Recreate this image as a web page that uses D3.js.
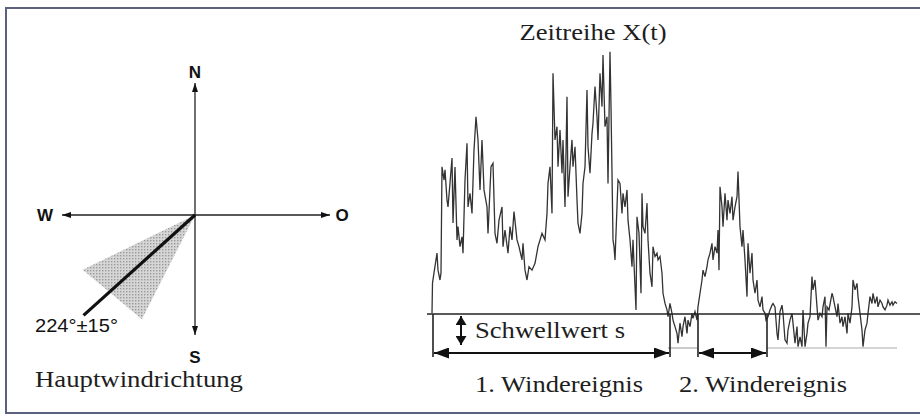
<!DOCTYPE html>
<html>
<head>
<meta charset="utf-8">
<script src="https://cdn.jsdelivr.net/npm/d3@7"></script>
<style>
  body { margin: 0; background: #fff; }
  svg { display: block; }
  .serif { font-family: "Liberation Serif", "Times New Roman", serif; fill: #1e1e1e; }
  .sans { font-family: "Liberation Sans", Arial, sans-serif; fill: #111; }
</style>
</head>
<body>
<svg id="chart" width="920" height="416"></svg>
<script>
// --- compass data
var directions = [
  { label: 'N', bearing: 0 },
  { label: 'O', bearing: 90 },
  { label: 'S', bearing: 180 },
  { label: 'W', bearing: 270 }
]
var windBearing = 228          // drawn main direction
var windSector = [207, 244]    // drawn sector
var windLabel = '224°±15°'
var compassTitle = 'Hauptwindrichtung'

// --- time series data: [t, X(t)]
var seriesTitle = 'Zeitreihe X(t)'
var threshold = 1
var thresholdLabel = 'Schwellwert s'
var series = [
  [0, 1.03], [0.5, 1.91], [2, 2.21], [5, 2.79], [6, 2.29], [8, 2.0], [9, 2.21], [10, 5.33], [12, 4.94], [13, 5.24],
  [15, 4.35], [16, 4.15], [18, 4.85], [20, 5.59], [21, 3.68], [23, 5.32], [25, 3.18], [26, 3.57], [28, 2.98], [30, 3.27],
  [31, 2.79], [33, 4.94], [35, 6.02], [36, 4.15], [38, 4.55], [40, 3.96], [42, 5.82], [44, 6.80], [46, 6.12], [48, 4.65],
  [50, 6.12], [52, 4.65], [55, 4.15], [56, 3.37], [59, 5.33], [61, 5.43], [63, 3.37], [65, 3.08], [67, 3.76], [70, 4.15],
  [71, 2.98], [73, 3.47], [76, 2.79], [78, 3.57], [80, 3.18], [82, 4.01], [85, 3.18], [87, 2.98], [90, 2.59], [91, 3.08],
  [93, 2.29], [95, 2.0], [97, 2.39], [100, 2.29], [103, 2.49], [106, 2.98], [110, 3.37], [113, 3.18], [115, 3.96], [116, 4.84],
  [118, 5.33], [120, 3.96], [121, 8.08], [123, 6.12], [125, 6.51], [126, 5.33], [128, 6.41], [130, 5.14], [131, 6.12], [133, 4.15],
  [135, 7.39], [136, 4.45], [138, 5.33], [140, 6.12], [141, 5.33], [143, 5.92], [145, 4.35], [146, 3.67], [148, 3.37], [150, 3.96],
  [151, 4.84], [153, 5.33], [155, 7.59], [156, 5.92], [158, 5.14], [160, 6.31], [161, 6.61], [163, 7.69], [165, 6.80], [166, 6.12],
  [168, 8.08], [170, 7.10], [171, 8.62], [173, 6.51], [175, 6.80], [176, 4.84], [178, 8.71], [179, 7.10], [181, 3.18], [182, 2.98],
  [183, 2.59], [185, 4.15], [186, 4.94], [188, 4.84], [190, 3.96], [191, 4.55], [193, 4.15], [195, 4.65], [196, 3.76], [198, 3.18],
  [200, 2.39], [201, 3.18], [203, 1.80], [204, 1.12], [205, 3.86], [207, 3.37], [209, 1.61], [210, 4.55], [211, 3.57], [213, 3.37],
  [215, 4.26], [216, 3.18], [218, 2.20], [220, 1.80], [221, 2.98], [223, 2.69], [225, 2.79], [226, 2.59], [228, 2.69], [230, 2.20],
  [231, 1.61], [233, 1.31], [235, 1.12], [236, 0.92], [238, 1.31], [240, 1.02], [241, 0.82], [243, 0.63], [245, 0.43], [246, 0.14],
  [248, 0.73], [250, 0.33], [251, 0.63], [253, 0.92], [255, 0.43], [256, 0.82], [258, 0.63], [260, 1.02], [261, 0.87], [263, 1.07],
  [265, 0.82], [266, 1.21], [268, 1.61], [270, 2.0], [271, 2.29], [273, 2.10], [275, 2.39], [276, 2.59], [278, 2.79], [280, 3.08],
  [281, 2.59], [283, 2.98], [285, 2.79], [286, 3.47], [287, 2.29], [288, 4.74], [290, 4.15], [291, 3.57], [293, 4.55], [295, 3.76],
  [296, 4.35], [298, 3.96], [300, 4.45], [301, 3.76], [303, 4.15], [305, 4.45], [306, 5.19], [308, 3.57], [310, 2.98], [311, 3.47],
  [313, 2.59], [315, 1.51], [316, 3.08], [318, 2.20], [320, 2.79], [321, 2.0], [323, 1.61], [325, 2.0], [326, 1.41], [328, 1.21],
  [330, 1.51], [331, 1.12], [333, 1.02], [334, 0.82], [336, 0.92], [338, 1.12], [340, 1.26], [341, 1.31], [343, 1.21], [345, 0.43],
  [346, 0.24], [348, 1.07], [350, 1.26], [351, 1.02], [353, 0.24], [355, 0.14], [356, 0.53], [358, 0.82], [360, 1.02], [361, 0.73],
  [363, 0.14], [365, 0.63], [366, 0.04], [368, 0.33], [370, 0.04], [371, 1.12], [373, 0.04], [375, 0.43], [376, 0.73], [378, 0.92],
  [380, 2.10], [381, 1.71], [383, 2.0], [385, 1.21], [386, 0.82], [388, 1.02], [390, 0.92], [391, 1.21], [393, 1.51], [394, 0.04],
  [395, 1.21], [397, 1.12], [400, 1.61], [401, 1.51], [403, 1.21], [405, 0.92], [406, 1.31], [408, 0.73], [410, 0.92], [411, 0.63],
  [413, 0.92], [415, 0.43], [416, 1.02], [418, 0.73], [420, 1.21], [421, 2.0], [423, 1.71], [425, 1.90], [426, 1.51], [428, 1.02],
  [430, 0.53], [431, 0.04], [433, 0.53], [435, 0.73], [436, 1.02], [438, 1.51], [440, 1.31], [441, 1.61], [443, 1.31], [445, 1.51],
  [446, 1.21], [448, 1.41], [450, 1.31], [451, 1.21], [453, 1.12], [455, 1.26], [456, 1.41], [458, 1.26], [460, 1.36], [461, 1.26],
  [463, 1.36], [465, 1.31]
]
var events = [
  { label: '1. Windereignis', start: 1, end: 238 },
  { label: '2. Windereignis', start: 266, end: 335 }
]
var lowSpans = [[236, 266], [335, 465]]

var svg = d3.select('#chart')

// frame
svg.append('rect')
  .attr('x', 6).attr('y', 8)
  .attr('width', 940).attr('height', 405)
  .attr('fill', 'none')
  .attr('stroke', '#5c6180')
  .attr('stroke-width', 2)

// arrow markers + halftone fill
var defs = svg.append('defs')
function marker (id, len, wid) {
  defs.append('marker')
    .attr('id', id)
    .attr('viewBox', '0 0 ' + len + ' ' + wid)
    .attr('refX', len).attr('refY', wid / 2)
    .attr('markerWidth', len).attr('markerHeight', wid)
    .attr('markerUnits', 'userSpaceOnUse')
    .attr('orient', 'auto-start-reverse')
    .append('path')
    .attr('d', 'M0,0L' + len + ',' + (wid / 2) + 'L0,' + wid + 'Z')
    .attr('fill', '#111')
}
marker('headSmall', 9, 6)
marker('headMid', 9, 11)
marker('headBig', 15, 11)

var dots = defs.append('pattern')
  .attr('id', 'halftone')
  .attr('width', 3).attr('height', 3)
  .attr('patternUnits', 'userSpaceOnUse')
dots.append('rect').attr('width', 3).attr('height', 3).attr('fill', '#d6d6d6')
dots.append('rect').attr('width', 1.4).attr('height', 1.4).attr('fill', '#9a9a9a')

// ---------------- compass
var cx = 195
var cy = 215
function polar (bearing, r) {
  var a = bearing * Math.PI / 180
  return [cx + r * Math.sin(a), cy - r * Math.cos(a)]
}
var arm = { N: 132, O: 135, S: 120, W: 133 }
var labelR = { N: 143, O: 147, S: 142, W: 150 }

var compass = svg.append('g')

var sectorR = 121
var p1 = polar(windSector[0], sectorR - 4)
var p2 = polar(windSector[1], sectorR + 4)
compass.append('path')
  .attr('d', 'M' + cx + ',' + cy + 'L' + p1 + 'L' + p2 + 'Z')
  .attr('fill', 'url(#halftone)')

compass.selectAll('line.arm')
  .data(directions)
  .enter()
  .append('line')
  .attr('class', 'arm')
  .attr('x1', cx).attr('y1', cy)
  .attr('x2', function (d) { return polar(d.bearing, arm[d.label])[0] })
  .attr('y2', function (d) { return polar(d.bearing, arm[d.label])[1] })
  .attr('stroke', '#222')
  .attr('stroke-width', 1.3)
  .attr('marker-end', 'url(#headSmall)')

compass.selectAll('text.dir')
  .data(directions)
  .enter()
  .append('text')
  .attr('class', 'sans dir')
  .attr('x', function (d) { return polar(d.bearing, labelR[d.label])[0] })
  .attr('y', function (d) { return polar(d.bearing, labelR[d.label])[1] + 6 })
  .attr('text-anchor', 'middle')
  .attr('font-size', 17)
  .attr('font-weight', 'bold')
  .text(function (d) { return d.label })

var pw = polar(windBearing, 150)
compass.append('line')
  .attr('x1', cx).attr('y1', cy)
  .attr('x2', pw[0]).attr('y2', pw[1])
  .attr('stroke', '#111')
  .attr('stroke-width', 3.2)

compass.append('text')
  .attr('class', 'sans')
  .attr('x', 35).attr('y', 332)
  .attr('font-size', 18)
  .attr('textLength', 83)
  .attr('lengthAdjust', 'spacingAndGlyphs')
  .text(windLabel)

compass.append('text')
  .attr('class', 'serif')
  .attr('x', 35).attr('y', 387)
  .attr('font-size', 23)
  .attr('textLength', 208)
  .attr('lengthAdjust', 'spacingAndGlyphs')
  .text(compassTitle)

// ---------------- time series
var x = d3.scaleLinear().domain([0, 465]).range([432, 897])
var y = d3.scaleLinear().domain([0, 10]).range([348, 8])

var ts = svg.append('g')

ts.append('text')
  .attr('class', 'serif')
  .attr('x', 593).attr('y', 40)
  .attr('text-anchor', 'middle')
  .attr('font-size', 24)
  .attr('textLength', 147)
  .attr('lengthAdjust', 'spacingAndGlyphs')
  .text(seriesTitle)

// lower reference line where the series is below threshold
ts.selectAll('line.low')
  .data(lowSpans)
  .enter()
  .append('line')
  .attr('class', 'low')
  .attr('x1', function (d) { return x(d[0]) })
  .attr('x2', function (d) { return x(d[1]) })
  .attr('y1', y(0)).attr('y2', y(0))
  .attr('stroke', '#aaa')
  .attr('stroke-width', 1.2)

var line = d3.line()
  .x(function (d) { return x(d[0]) })
  .y(function (d) { return y(d[1]) })

ts.append('path')
  .datum(series)
  .attr('d', line)
  .attr('fill', 'none')
  .attr('stroke', '#333')
  .attr('stroke-width', 1.3)
  .attr('stroke-linejoin', 'miter')

// threshold
ts.append('line')
  .attr('x1', x(-5)).attr('x2', 925)
  .attr('y1', y(threshold)).attr('y2', y(threshold))
  .attr('stroke', '#222')
  .attr('stroke-width', 1.6)

// threshold height arrow
ts.append('line')
  .attr('x1', 461).attr('x2', 461)
  .attr('y1', y(threshold) + 2).attr('y2', y(0) - 3)
  .attr('stroke', '#111')
  .attr('stroke-width', 2)
  .attr('marker-start', 'url(#headMid)')
  .attr('marker-end', 'url(#headMid)')

ts.append('text')
  .attr('class', 'serif')
  .attr('x', 475).attr('y', 338)
  .attr('font-size', 24)
  .attr('textLength', 150)
  .attr('lengthAdjust', 'spacingAndGlyphs')
  .text(thresholdLabel)

// events
var ev = ts.selectAll('g.event')
  .data(events)
  .enter()
  .append('g')
  .attr('class', 'event')

ev.selectAll('line.edge')
  .data(function (d) { return [d.start, d.end] })
  .enter()
  .append('line')
  .attr('class', 'edge')
  .attr('x1', function (d) { return x(d) })
  .attr('x2', function (d) { return x(d) })
  .attr('y1', y(threshold))
  .attr('y2', y(0) + 9)
  .attr('stroke', '#222')
  .attr('stroke-width', 1.6)

ev.append('line')
  .attr('x1', function (d) { return x(d.start) + 1 })
  .attr('x2', function (d) { return x(d.end) - 1 })
  .attr('y1', y(0) + 5).attr('y2', y(0) + 5)
  .attr('stroke', '#111')
  .attr('stroke-width', 2)
  .attr('marker-start', 'url(#headBig)')
  .attr('marker-end', 'url(#headBig)')

ev.append('text')
  .attr('class', 'serif')
  .attr('x', function (d, i) { return i === 0 ? 559 : 763 })
  .attr('y', 392)
  .attr('text-anchor', 'middle')
  .attr('font-size', 24)
  .attr('textLength', 168)
  .attr('lengthAdjust', 'spacingAndGlyphs')
  .text(function (d) { return d.label })
</script>
</body>
</html>
